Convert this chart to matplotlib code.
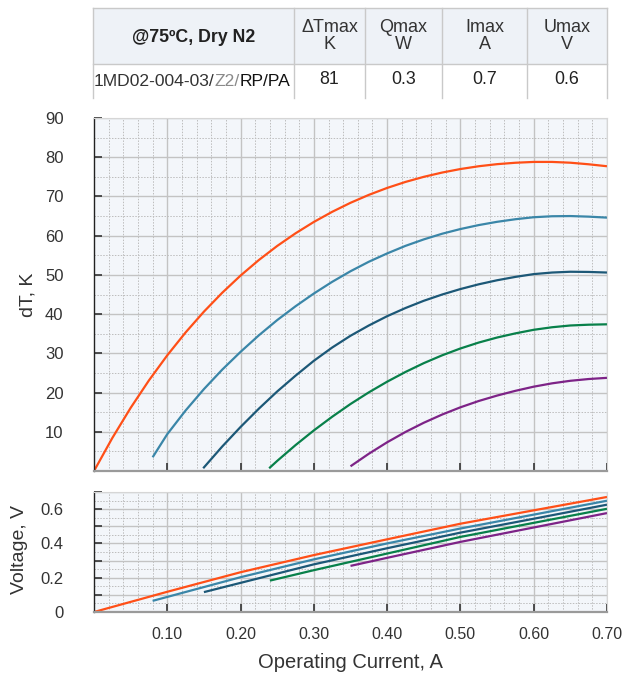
import matplotlib
matplotlib.use('Agg')
import matplotlib.pyplot as plt
from matplotlib.ticker import MultipleLocator, FixedLocator

plt.rcParams['font.family'] = ['Liberation Sans', 'DejaVu Sans']

# table
header = ['@75ºC, Dry N2', 'ΔTmax\nK', 'Qmax\nW', 'Imax\nA', 'Umax\nV']
row_vals = ['81', '0.3', '0.7', '0.6']
model_parts = [('1MD02-004-03/', '#333333'), ('Z2/', '#8a8a8a'), ('RP/PA', '#111111')]

colors = ['#ff4f17', '#3a86a8', '#1c5877', '#08804a', '#7d2387']

# dT (K) vs current (A)
cur_a = [0, 0.025, 0.05, 0.075, 0.1, 0.125, 0.15, 0.175, 0.2, 0.225, 0.25, 0.275, 0.3, 0.325,
         0.35, 0.375, 0.4, 0.425, 0.45, 0.475, 0.5, 0.525, 0.55, 0.575, 0.6, 0.625, 0.65, 0.675, 0.7]
dt_orange = [0, 8.42, 16.10, 23.11, 29.50, 35.33, 40.63, 45.45, 49.83, 53.80, 57.38, 60.60, 63.50,
             66.08, 68.38, 70.40, 72.17, 73.70, 75.00, 76.09, 76.99, 77.70, 78.23, 78.59, 78.80,
             78.80, 78.60, 78.20, 77.70]

cur_b = [0.08, 0.1, 0.125, 0.15, 0.175, 0.2, 0.225, 0.25, 0.275, 0.3, 0.325, 0.35, 0.375, 0.4,
         0.425, 0.45, 0.475, 0.5, 0.525, 0.55, 0.575, 0.6, 0.625, 0.65, 0.675, 0.7]
dt_lblue = [3.5, 9.4, 15.43, 20.88, 25.85, 30.38, 34.6, 38.48, 42.0, 45.25, 48.23, 50.93, 53.35,
            55.47, 57.4, 59.05, 60.49, 61.69, 62.7, 63.53, 64.19, 64.7, 64.95, 65.0, 64.85, 64.6]

cur_c = [0.149, 0.175, 0.2, 0.225, 0.25, 0.275, 0.3, 0.325, 0.35, 0.375, 0.4, 0.425, 0.45, 0.475,
         0.5, 0.525, 0.55, 0.575, 0.6, 0.625, 0.65, 0.675, 0.7]
dt_dblue = [0.7, 6.25, 11.23, 15.9, 20.28, 24.3, 28.1, 31.48, 34.48, 37.1, 39.47, 41.55, 43.4,
            44.99, 46.39, 47.6, 48.63, 49.49, 50.2, 50.6, 50.8, 50.75, 50.6]

cur_d = [0.239, 0.25, 0.275, 0.3, 0.325, 0.35, 0.375, 0.4, 0.425, 0.45, 0.475, 0.5, 0.525, 0.55,
         0.575, 0.6, 0.625, 0.65, 0.675, 0.7]
dt_green = [0.7, 2.58, 6.6, 10.35, 13.83, 17.08, 20.05, 22.77, 25.25, 27.5, 29.49, 31.24, 32.75,
            34.03, 35.09, 36.0, 36.65, 37.1, 37.3, 37.4]

cur_e = [0.35, 0.375, 0.4, 0.425, 0.45, 0.475, 0.5, 0.525, 0.55, 0.575, 0.6, 0.625, 0.65, 0.675, 0.7]
dt_purple = [1.2, 4.4, 7.32, 9.95, 12.3, 14.39, 16.24, 17.85, 19.23, 20.44, 21.5, 22.35, 23.0,
             23.45, 23.75]

dt_i = [cur_a, cur_b, cur_c, cur_d, cur_e]
dt_k = [dt_orange, dt_lblue, dt_dblue, dt_green, dt_purple]

# voltage vs current
v_i = [
    [0, 0.1, 0.2, 0.3, 0.4, 0.5, 0.6, 0.7],
    [0.08, 0.2, 0.3, 0.4, 0.5, 0.6, 0.7],
    [0.15, 0.2, 0.3, 0.4, 0.5, 0.6, 0.7],
    [0.24, 0.3, 0.4, 0.5, 0.6, 0.7],
    [0.35, 0.4, 0.5, 0.6, 0.7],
]
v_v = [
    [0, 0.118, 0.232, 0.332, 0.424, 0.515, 0.593, 0.671],
    [0.065, 0.203, 0.307, 0.400, 0.487, 0.568, 0.649],
    [0.116, 0.170, 0.278, 0.372, 0.463, 0.544, 0.626],
    [0.183, 0.244, 0.341, 0.438, 0.520, 0.602],
    [0.269, 0.316, 0.409, 0.493, 0.577],
]

W, H = 622, 678
fig = plt.figure(figsize=(W / 100, H / 100), dpi=100)

def fx(px):
    return px / W

def fy(py):
    return 1 - py / H

# ---- table at top ----
col_x = [93, 294, 365, 442, 527, 607]
row_y = [8, 64, 98]
tab = fig.add_axes([0, 0, 1, 1])
tab.set_xlim(0, W)
tab.set_ylim(H, 0)
tab.axis('off')
tab.add_patch(plt.Rectangle((col_x[0], row_y[0]), col_x[-1] - col_x[0], row_y[1] - row_y[0],
                            facecolor='#eef2f7', edgecolor='none'))
gc = '#c9c9c9'
tab.plot([col_x[0], col_x[-1]], [row_y[0], row_y[0]], color=gc, lw=1)
tab.plot([col_x[0], col_x[-1]], [row_y[1], row_y[1]], color=gc, lw=1)
for x in col_x:
    tab.plot([x, x], [row_y[0], row_y[2]], color=gc, lw=1)
for j, h in enumerate(header):
    cx = (col_x[j] + col_x[j + 1]) / 2
    if j == 0:
        tab.text(cx, (row_y[0] + row_y[1]) / 2 + 1, h, ha='center', va='center',
                 fontsize=12.8, fontweight='bold', color='#222222')
    else:
        tab.text(cx, (row_y[0] + row_y[1]) / 2, h, ha='center', va='center',
                 fontsize=13, color='#333333', linespacing=1.0)
for j, v in enumerate(row_vals):
    cx = (col_x[j + 1] + col_x[j + 2]) / 2
    tab.text(cx, 80, v, ha='center', va='center', fontsize=12.8, color='#222222')

fig.canvas.draw()
rend = fig.canvas.get_renderer()
xpos = 94
for txt, c in model_parts:
    t = tab.text(xpos, 81, txt, ha='left', va='center', fontsize=12.6, color=c)
    bb = t.get_window_extent(renderer=rend)
    xpos += bb.width

# ---- axes ----
left, right = fx(94), fx(607)
ax1 = fig.add_axes([left, fy(471), right - left, fy(118) - fy(471)])
ax2 = fig.add_axes([left, fy(612), right - left, fy(492) - fy(612)])

for ax in (ax1, ax2):
    ax.set_facecolor('#f3f6fa')
    ax.set_xlim(0, 0.7)
    ax.xaxis.set_major_locator(FixedLocator([0.1, 0.2, 0.3, 0.4, 0.5, 0.6, 0.7]))
    ax.xaxis.set_minor_locator(MultipleLocator(0.02))
    ax.grid(which='major', color='#c3c3c3', lw=1.0, ls='-')
    ax.grid(which='minor', color='#bdbdbd', lw=0.7, ls=(0, (1.5, 1.5)))
    ax.set_axisbelow(True)
    ax.spines['left'].set_color('#222222')
    ax.spines['left'].set_linewidth(1.0)
    ax.spines['bottom'].set_color('#9a9a9a')
    ax.spines['bottom'].set_linewidth(1.6)
    ax.spines['top'].set_color('#d6d6d6')
    ax.spines['right'].set_color('#d6d6d6')
    ax.tick_params(which='major', direction='in', length=6, width=1.2, color='#333333',
                   labelcolor='#333333')
    ax.tick_params(which='minor', length=0)
    ax.tick_params(axis='y', pad=22, labelsize=12)
    ax.tick_params(axis='x', pad=11, labelsize=11.5)

ax1.set_ylim(0, 90)
ax1.yaxis.set_major_locator(MultipleLocator(10))
ax1.yaxis.set_minor_locator(MultipleLocator(5))
ax1.set_yticklabels(['' if v == 0 else f'{v:g}' for v in ax1.get_yticks()])
ax1.tick_params(axis='x', labelbottom=False)

for i in range(len(colors)):
    ax1.plot(dt_i[i], dt_k[i], color=colors[i], lw=1.6, solid_capstyle='butt', solid_joinstyle='round')
    ax2.plot(v_i[i], v_v[i], color=colors[i], lw=1.6, solid_capstyle='butt', solid_joinstyle='round')

ax2.set_ylim(0, 0.7)
ax2.yaxis.set_major_locator(MultipleLocator(0.1))
ax2.yaxis.set_minor_locator(MultipleLocator(0.05))
ax2.set_yticklabels([('0' if abs(v) < 1e-9 else f'{v:.1f}') if round(v * 10) % 2 == 0 else ''
                     for v in ax2.get_yticks()])
ax2.set_xticklabels(['0.10', '0.20', '0.30', '0.40', '0.50', '0.60', '0.70'])

fig.text(fx(28), fy(295), 'dT, K', rotation=90, ha='center', va='center', fontsize=14, color='#333333')
fig.text(fx(20), fy(550), 'Voltage, V', rotation=90, ha='center', va='center', fontsize=14, color='#333333')
fig.text(fx(350), fy(663), 'Operating Current, A', ha='center', va='center', fontsize=14.5, color='#333333')

fig.savefig('out.png', dpi=100)
